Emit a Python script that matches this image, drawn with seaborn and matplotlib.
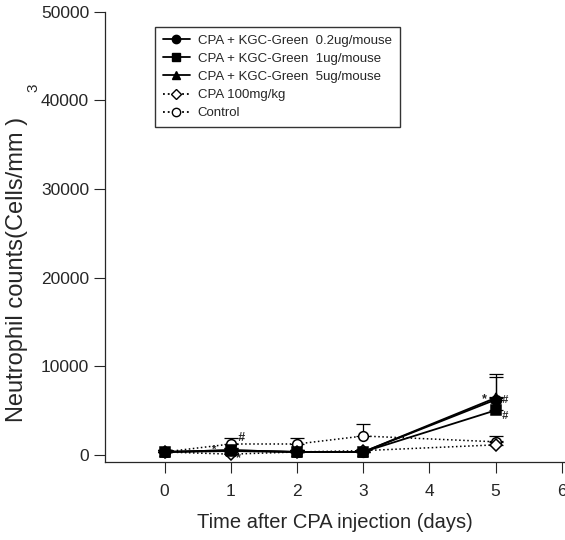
import matplotlib
matplotlib.use("Agg")
import matplotlib.pyplot as plt
import seaborn as sns
import pandas as pd
from matplotlib.lines import Line2D

sns.set_style("ticks")
plt.rcParams['font.family'] = ['Liberation Sans', 'DejaVu Sans']

days = [0, 1, 2, 3, 5]
labels = ["CPA + KGC-Green  0.2ug/mouse", "CPA + KGC-Green  1ug/mouse",
          "CPA + KGC-Green  5ug/mouse", "CPA 100mg/kg", "Control"]
kgc_02 = [300, 500, 300, 300, 6200]
kgc_1 = [300, 500, 300, 300, 5000]
kgc_5 = [300, 400, 300, 300, 6400]
cpa = [300, 50, 300, 450, 1100]
control = [300, 1200, 1200, 2100, 1450]
err_kgc_02 = [200, 200, 200, 200, 2600]
err_kgc_1 = [200, 200, 200, 200, 1500]
err_kgc_5 = [200, 200, 200, 200, 2700]
err_cpa = [200, 200, 200, 200, 400]
err_control = [200, 700, 700, 1400, 650]

series = [kgc_02, kgc_1, kgc_5, cpa, control]
errors = [err_kgc_02, err_kgc_1, err_kgc_5, err_cpa, err_control]
markers = ["o", "s", "^", "D", "o"]
fills = ["black", "black", "black", "white", "white"]
styles = ["-", "-", "-", ":", ":"]
msizes = [7, 7, 7, 6, 7]

fig = plt.figure(figsize=(5.65, 5.4), dpi=100)
ax = fig.add_axes([0.186, 0.145, 0.814, 0.833])

# open symbols first so the filled ones sit on top
for i in [4, 3, 2, 1, 0]:
    df = pd.DataFrame({"day": days, "count": series[i]})
    ax.errorbar(days, series[i], yerr=[[0] * 5, errors[i]], fmt="none",
                ecolor="black", elinewidth=0.9, capsize=5, capthick=0.9, zorder=2)
    sns.lineplot(data=df, x="day", y="count", ax=ax, color="black",
                 linestyle=styles[i], linewidth=1.3 if styles[i] == "-" else 1.1,
                 marker=markers[i], markersize=msizes[i], markerfacecolor=fills[i],
                 markeredgecolor="black", markeredgewidth=1.1, zorder=3 + (4 - i))

# significance marks
ax.text(1.1, 1500, "#", fontsize=9, style="italic", weight="bold")
ax.text(1.07, -700, "*", fontsize=9, weight="bold")
ax.text(0.72, 250, "*", fontsize=8, weight="bold")
ax.text(4.8, 5900, "*", fontsize=9, weight="bold")
ax.text(5.1, 5800, "#", fontsize=8, style="italic", weight="bold")
ax.text(5.1, 4000, "#", fontsize=8, style="italic", weight="bold")

ax.set_xlim(-0.9, 6.05)
ax.set_ylim(-800, 50000)
ax.set_xticks([0, 1, 2, 3, 4, 5, 6])
ax.set_yticks([0, 10000, 20000, 30000, 40000, 50000])
ax.tick_params(axis="both", labelsize=12.5, length=8, width=0.8, direction="out")
ax.tick_params(axis="x", pad=8)
ax.set_xlabel("Time after CPA injection (days)", fontsize=14.5, labelpad=10)
ax.set_ylabel("Neutrophil counts(Cells/mm )", fontsize=17)
ax.yaxis.set_label_coords(-0.168, 0.427)
fig.text(0.047, 0.835, "3", fontsize=11, rotation=90)
sns.despine(ax=ax)
for s in ["left", "bottom"]:
    ax.spines[s].set_linewidth(0.9)

handles = []
for i in range(5):
    handles.append(Line2D([], [], color="black", linestyle=styles[i], linewidth=1.3,
                          marker=markers[i], markersize=msizes[i] - 1,
                          markerfacecolor=fills[i], markeredgecolor="black"))
leg = ax.legend(handles, labels, loc="upper left", bbox_to_anchor=(0.095, 0.982),
                fontsize=9.5, frameon=True, fancybox=False, edgecolor="black",
                handlelength=2.0, handletextpad=0.6, borderpad=0.6, labelspacing=0.45)
leg.get_frame().set_linewidth(1.0)

fig.savefig("out.png", dpi=100)
